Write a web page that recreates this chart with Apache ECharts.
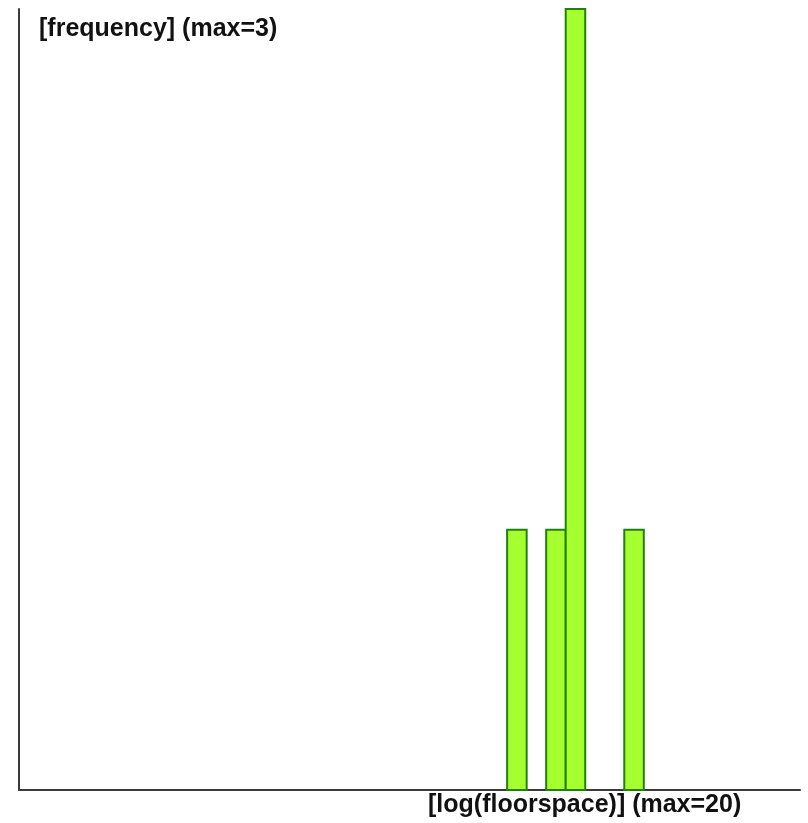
<!DOCTYPE html>
<html>
<head>
<meta charset="utf-8">
<script src="https://cdn.jsdelivr.net/npm/echarts@6/dist/echarts.min.js"></script>
<style>
  html, body { margin: 0; padding: 0; background: #ffffff; }
  #chart { width: 808px; height: 823px; }
</style>
</head>
<body>
<div id="chart"></div>
<script>
// Histogram of log(floorspace): bins of width 0.5 on [0, 20]
const binStarts = [12.5, 13.5, 14.0, 15.5];
const binWidth = 0.5;
const counts = [1, 1, 3, 1];
const xMax = 20;
const yMax = 3;
const yLabel = '[frequency] (max=3)';
const xLabel = '[log(floorspace)] (max=20)';

const bins = binStarts.map((s, i) => [s, s + binWidth, counts[i]]);

const chart = echarts.init(document.getElementById('chart'), null, { renderer: 'canvas' });

const axisLine = { show: true, lineStyle: { color: '#3a3a3a', width: 2 } };
const labelFont = 'bold 25px "Liberation Sans", Arial, sans-serif';

chart.setOption({
  animation: false,
  backgroundColor: '#ffffff',
  grid: { left: 19, right: 8, top: 9, bottom: 33, containLabel: false },
  xAxis: {
    type: 'value', min: 0, max: xMax,
    axisLine: axisLine, axisTick: { show: false },
    axisLabel: { show: false }, splitLine: { show: false }
  },
  yAxis: {
    type: 'value', min: 0, max: yMax,
    axisLine: axisLine, axisTick: { show: false },
    axisLabel: { show: false }, splitLine: { show: false }
  },
  series: [{
    type: 'custom',
    data: bins,
    encode: { x: [0, 1], y: 2 },
    renderItem: function (params, api) {
      const p0 = api.coord([api.value(0), 0]);
      const p1 = api.coord([api.value(1), api.value(2)]);
      return {
        type: 'rect',
        shape: { x: p0[0], y: p1[1], width: p1[0] - p0[0], height: p0[1] - p1[1] },
        style: { fill: '#a6ff2f', stroke: '#238010', lineWidth: 2 }
      };
    }
  }],
  graphic: [
    {
      type: 'text', left: 39, top: 17,
      style: { text: yLabel, fill: '#111', font: labelFont }
    },
    {
      type: 'text', left: 428, top: 793,
      style: { text: xLabel, fill: '#111', font: labelFont }
    }
  ]
});
</script>
</body>
</html>
